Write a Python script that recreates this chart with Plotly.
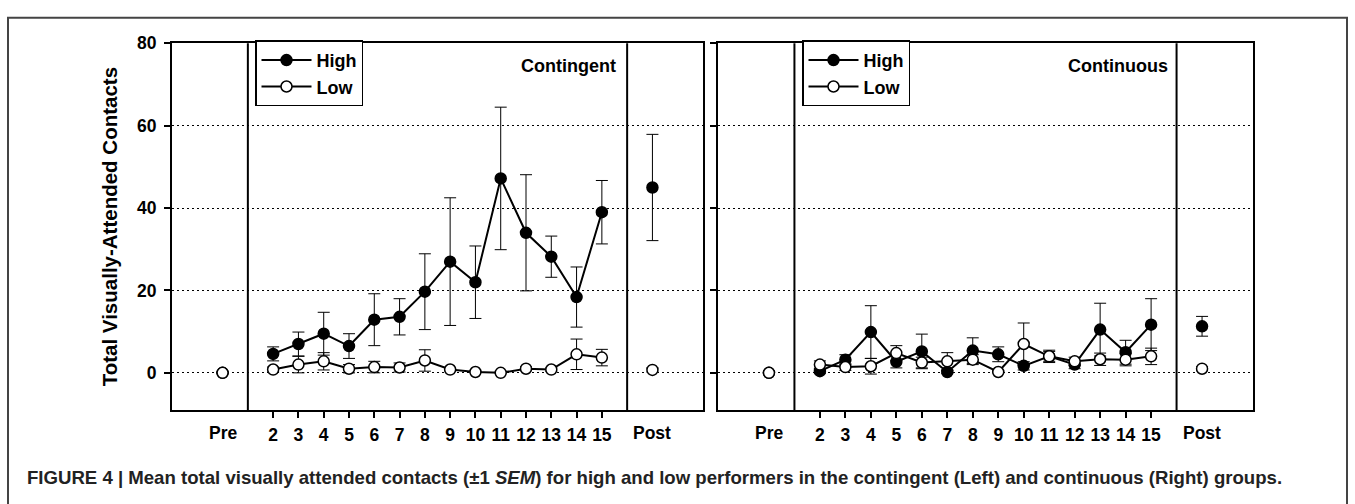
import plotly.graph_objects as go

W, H = 1355, 504

sessions = list(range(2, 16))
pre_post_x = [0, 17]

# Contingent (left panel)
cont_high = [4.6, 7.0, 9.5, 6.5, 12.9, 13.6, 19.7, 27.0, 22.0, 47.2, 34.0, 28.2, 18.4, 39.0]
cont_high_sem = [1.7, 2.9, 5.2, 3.0, 6.3, 4.4, 9.2, 15.5, 8.8, 17.3, 14.1, 5.0, 7.3, 7.7]
cont_low = [0.8, 2.0, 2.8, 1.0, 1.4, 1.3, 3.0, 0.8, 0.2, 0.0, 1.0, 0.8, 4.5, 3.7]
cont_low_sem = [0.6, 2.0, 2.1, 1.0, 1.4, 1.1, 2.6, 0.3, 0.1, 0.1, 0.5, 0.4, 3.7, 2.0]
cont_high_pp = [0.0, 45.0]
cont_high_pp_sem = [0.0, 12.9]
cont_low_pp = [0.0, 0.7]
cont_low_pp_sem = [0.0, 0.5]

# Continuous (right panel)
contin_high = [0.4, 3.2, 9.9, 2.7, 5.2, 0.2, 5.4, 4.5, 1.7, 4.0, 2.0, 10.5, 5.0, 11.7]
contin_high_sem = [0.5, 1.2, 6.4, 1.5, 4.2, 0.4, 3.1, 1.8, 1.0, 1.2, 1.0, 6.4, 2.9, 6.3]
contin_low = [2.0, 1.4, 1.6, 4.8, 2.5, 2.8, 3.2, 0.2, 7.0, 4.0, 2.8, 3.3, 3.2, 4.0]
contin_low_sem = [0.9, 0.8, 1.9, 1.8, 1.3, 2.1, 1.2, 0.2, 5.1, 1.5, 1.0, 1.5, 1.5, 2.0]
contin_high_pp = [0.0, 11.3]
contin_high_pp_sem = [0.0, 2.4]
contin_low_pp = [0.0, 1.0]
contin_low_pp_sem = [0.0, 0.5]

y_ticks = [0, 20, 40, 60, 80]
panel_titles = ["Contingent", "Continuous"]
caption = ("FIGURE 4 | Mean total visually attended contacts (\u00b11 <i>SEM</i>) for high and low "
           "performers in the contingent (Left) and continuous (Right) groups.")

FONT = "Liberation Sans"

fig = go.Figure()

def px2x(p):
    return p / W

def px2y(p):
    return 1 - p / H

def err(arr):
    return dict(type="data", array=arr, visible=True, color="black", thickness=1, width=6)

high_marker = dict(symbol="circle", size=11, color="black", line=dict(color="black", width=1.5))
low_marker = dict(symbol="circle", size=11, color="white", line=dict(color="black", width=1.5))

panels = [
    ("x", "y", "legend", cont_high, cont_high_sem, cont_low, cont_low_sem,
     cont_high_pp, cont_high_pp_sem, cont_low_pp, cont_low_pp_sem),
    ("x2", "y2", "legend2", contin_high, contin_high_sem, contin_low, contin_low_sem,
     contin_high_pp, contin_high_pp_sem, contin_low_pp, contin_low_pp_sem),
]

for xa, ya, lg, hi, hisem, lo, losem, hpp, hppsem, lpp, lppsem in panels:
    fig.add_trace(go.Scatter(x=sessions, y=hi, mode="lines+markers", name="High",
                             line=dict(color="black", width=2), marker=high_marker,
                             error_y=err(hisem), xaxis=xa, yaxis=ya, legend=lg))
    fig.add_trace(go.Scatter(x=sessions, y=lo, mode="lines+markers", name="Low",
                             line=dict(color="black", width=2), marker=low_marker,
                             error_y=err(losem), xaxis=xa, yaxis=ya, legend=lg))
    fig.add_trace(go.Scatter(x=pre_post_x, y=hpp, mode="markers", showlegend=False,
                             marker=high_marker, error_y=err(hppsem), xaxis=xa, yaxis=ya))
    fig.add_trace(go.Scatter(x=pre_post_x, y=lpp, mode="markers", showlegend=False,
                             marker=low_marker, error_y=err(lppsem), xaxis=xa, yaxis=ya))

ydom = [px2y(408), px2y(34)]
axis_common = dict(showline=True, linecolor="black", linewidth=2, mirror=True,
                   zeroline=False, ticks="outside", tickcolor="black", ticklen=6, tickwidth=1.5,
                   tickfont=dict(family=FONT, size=17.5, color="black", weight="bold"))

xaxis_common = dict(axis_common, range=[-2, 19], tickvals=sessions, ticktext=[str(s) for s in sessions],
                    showgrid=False, ticklabelstandoff=2)
yaxis_common = dict(axis_common, range=[-9, 80], tickvals=y_ticks, showgrid=True,
                    gridcolor="black", gridwidth=1.3, griddash="2px,3px")

legend_common = dict(xanchor="left", yanchor="top", bordercolor="black", borderwidth=1.5,
                     bgcolor="white", font=dict(family=FONT, size=18, color="black", weight="bold"),
                     tracegroupgap=0, itemwidth=50)

fig.update_layout(
    width=W, height=H, margin=dict(l=0, r=0, t=0, b=0),
    paper_bgcolor="white", plot_bgcolor="white",
    font=dict(family=FONT, color="black"),
    xaxis=dict(xaxis_common, domain=[px2x(172), px2x(703)], anchor="y"),
    yaxis=dict(yaxis_common, domain=ydom, anchor="x", ticklabelstandoff=4,
               title=dict(text="Total Visually-Attended Contacts", standoff=14,
                          font=dict(family=FONT, size=20.5, color="black", weight="bold"))),
    xaxis2=dict(xaxis_common, domain=[px2x(718), px2x(1253)], anchor="y2"),
    yaxis2=dict(yaxis_common, domain=ydom, anchor="x2", showticklabels=False),
    legend=dict(legend_common, x=px2x(255), y=px2y(31)),
    legend2=dict(legend_common, x=px2x(802), y=px2y(31)),
)

shapes = []
for xa in ["x", "x2"]:
    for xv in [1, 16]:
        shapes.append(dict(type="line", xref=xa, yref="paper", x0=xv, x1=xv,
                           y0=ydom[0], y1=ydom[1], line=dict(color="black", width=2)))
# outer frame
shapes.append(dict(type="rect", xref="paper", yref="paper", x0=px2x(8), x1=px2x(1347),
                   y0=-0.05, y1=px2y(8), line=dict(color="#444444", width=2)))
fig.update_layout(shapes=shapes)

annotations = []
for xa, title, tx in [("x", panel_titles[0], 618), ("x2", panel_titles[1], 1170)]:
    annotations.append(dict(text=title, xref="paper", yref="paper", x=px2x(tx), y=px2y(57),
                            xanchor="right", yanchor="middle", showarrow=False,
                            font=dict(family=FONT, size=18, color="black", weight="bold")))
    for lbl, xv in [("Pre", 0), ("Post", 17)]:
        annotations.append(dict(text=lbl, xref=xa, yref="paper", x=xv, y=px2y(432),
                                xanchor="center", yanchor="middle", showarrow=False,
                                font=dict(family=FONT, size=17.5, color="black", weight="bold")))
annotations.append(dict(text=caption, xref="paper", yref="paper", x=px2x(25), y=px2y(477),
                        xanchor="left", yanchor="middle", showarrow=False,
                        font=dict(family=FONT, size=18.6, color="#222222", weight="bold")))
fig.update_layout(annotations=annotations)

fig.write_html("out.html")
